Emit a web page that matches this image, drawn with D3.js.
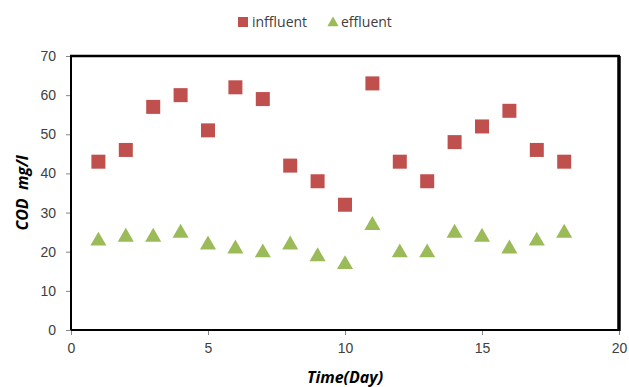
<!DOCTYPE html>
<html>
<head>
<meta charset="utf-8">
<script src="https://cdn.jsdelivr.net/npm/d3@7"></script>
<style>
  body { margin: 0; background: #fff; }
  svg { display: block; font-family: "Open Sans", "Noto Sans", sans-serif; }
  .tick text { fill: #404040; font-size: 14px; }
</style>
</head>
<body>
<div id="chart"></div>
<script>
// days and COD readings
var days = [1, 2, 3, 4, 5, 6, 7, 8, 9, 10, 11, 12, 13, 14, 15, 16, 17, 18];
var influent = [43, 46, 57, 60, 51, 62, 59, 42, 38, 32, 63, 43, 38, 48, 52, 56, 46, 43];
var effluent = [23, 24, 24, 25, 22, 21, 20, 22, 19, 17, 27, 20, 20, 25, 24, 21, 23, 25];
var xTicks = [0, 5, 10, 15, 20];
var yTicks = [0, 10, 20, 30, 40, 50, 60, 70];

var margin = { left: 71, right: 10, top: 56, bottom: 57 };
var W = 629, H = 387;
var width = W - margin.left - margin.right,
    height = H - margin.top - margin.bottom;

var svg = d3.select("#chart").append("svg")
    .attr("width", W)
    .attr("height", H);

var g = svg.append("g")
    .attr("transform", "translate(" + margin.left + "," + margin.top + ")");

var x = d3.scaleLinear().domain([0, 20]).range([0, width]);
var y = d3.scaleLinear().domain([0, 70]).range([height, 0]);

// axes
var xAxis = g.append("g")
    .attr("transform", "translate(0," + height + ")")
    .call(d3.axisBottom(x).tickValues(xTicks).tickSize(5).tickPadding(8));
var yAxis = g.append("g")
    .call(d3.axisLeft(y).tickValues(yTicks).tickSize(5).tickPadding(10));
[xAxis, yAxis].forEach(function(a){
  a.select(".domain").remove();
  a.selectAll(".tick line").attr("stroke", "#868686");
});

// frame: thin-ish left / bottom, heavy top / right
g.append("line").attr("x1", 0).attr("x2", 0).attr("y1", 0).attr("y2", height)
    .attr("stroke", "#000").attr("stroke-width", 2);
g.append("line").attr("x1", 0).attr("x2", width).attr("y1", height).attr("y2", height)
    .attr("stroke", "#000").attr("stroke-width", 2);
g.append("line").attr("x1", -1).attr("x2", width + 1).attr("y1", 0).attr("y2", 0)
    .attr("stroke", "#000").attr("stroke-width", 2.5);
g.append("line").attr("x1", width).attr("x2", width).attr("y1", 0).attr("y2", height + 1)
    .attr("stroke", "#000").attr("stroke-width", 3.5);

// influent squares
var sq = 14;
g.selectAll("rect.inf")
    .data(days)
    .enter().append("rect")
    .attr("class", "inf")
    .attr("x", function(d){ return x(d) - sq / 2; })
    .attr("y", function(d, i){ return y(influent[i]) - sq / 2; })
    .attr("width", sq)
    .attr("height", sq)
    .attr("fill", "#C0504D");

// effluent triangles
var tri = d3.symbol().type(d3.symbolTriangle).size(112);
g.selectAll("path.eff")
    .data(days)
    .enter().append("path")
    .attr("class", "eff")
    .attr("d", tri)
    .attr("transform", function(d, i){ return "translate(" + x(d) + "," + (y(effluent[i]) + 1) + ")"; })
    .attr("fill", "#9BBB59");

// axis titles
svg.append("text")
    .attr("x", margin.left + width / 2)
    .attr("y", 383)
    .attr("text-anchor", "middle")
    .attr("font-size", "16px")
    .attr("font-weight", "bold")
    .attr("font-style", "italic")
    .attr("fill", "#000")
    .text("Time(Day)");

svg.append("text")
    .attr("transform", "translate(28," + (margin.top + height / 2) + ") rotate(-90)")
    .attr("text-anchor", "middle")
    .attr("font-size", "16px")
    .attr("font-weight", "bold")
    .attr("font-style", "italic")
    .attr("fill", "#000")
    .attr("xml:space", "preserve")
    .style("white-space", "pre")
    .text("COD  mg/l");

// legend
var legend = svg.append("g").attr("transform", "translate(238,22)");
legend.append("rect").attr("x", 0).attr("y", -5).attr("width", 10).attr("height", 10)
    .attr("fill", "#C0504D");
legend.append("text").attr("x", 14).attr("y", 5).attr("font-size", "14px")
    .attr("fill", "#404040").text("inffluent");
legend.append("path").attr("d", d3.symbol().type(d3.symbolTriangle).size(55))
    .attr("transform", "translate(95,1)").attr("fill", "#9BBB59");
legend.append("text").attr("x", 103).attr("y", 5).attr("font-size", "14px")
    .attr("fill", "#404040").text("effluent");
</script>
</body>
</html>
